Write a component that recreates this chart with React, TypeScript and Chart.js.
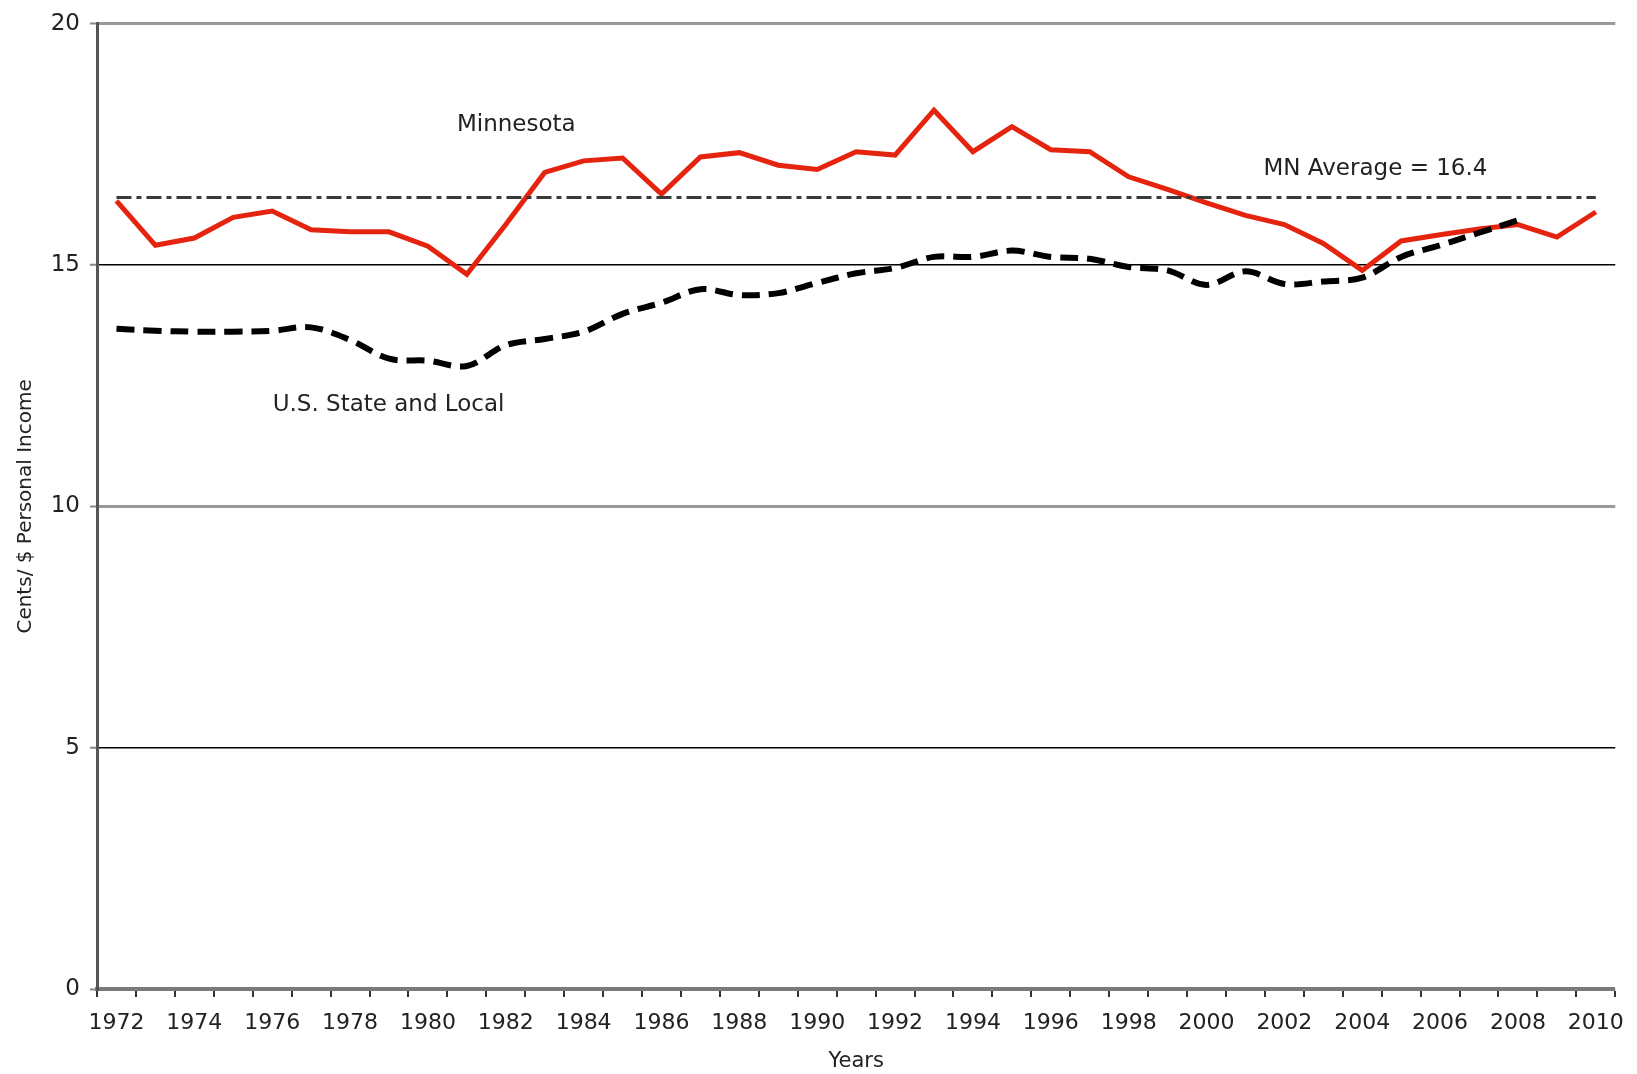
import React, { useEffect, useRef } from "react";
import { Chart, registerables } from "chart.js";

Chart.register(...registerables);

const years: string[] = [
  "1972","1973","1974","1975","1976","1977","1978","1979","1980","1981",
  "1982","1983","1984","1985","1986","1987","1988","1989","1990","1991",
  "1992","1993","1994","1995","1996","1997","1998","1999","2000","2001",
  "2002","2003","2004","2005","2006","2007","2008","2009","2010",
];

const minnesota: number[] = [
  16.33, 15.41, 15.56, 15.99, 16.12, 15.73, 15.69, 15.69, 15.39, 14.81,
  15.84, 16.92, 17.16, 17.22, 16.47, 17.24, 17.33, 17.07, 16.98, 17.35,
  17.28, 18.21, 17.35, 17.87, 17.39, 17.35, 16.83, 16.57, 16.29, 16.03,
  15.84, 15.45, 14.89, 15.50, 15.63, 15.75, 15.84, 15.58, 16.10,
];

const usStateLocal: (number | null)[] = [
  13.68, 13.64, 13.62, 13.62, 13.64, 13.71, 13.45, 13.06, 13.02, 12.91,
  13.34, 13.47, 13.62, 13.99, 14.22, 14.50, 14.38, 14.42, 14.63, 14.83,
  14.94, 15.17, 15.17, 15.30, 15.17, 15.13, 14.96, 14.89, 14.59, 14.87,
  14.61, 14.66, 14.74, 15.17, 15.41, 15.67, 15.93, null, null,
];

const mnAverage = 16.4;
const mnAverageLine: number[] = years.map(() => mnAverage);

const yTicks: number[] = [0, 5, 10, 15, 20];

// text annotations: [label, category position, value]
const annotations: [string, number, number][] = [
  ["Minnesota", 10.27, 17.9],
  ["U.S. State and Local", 6.99, 12.1],
  ["MN Average = 16.4", 32.34, 16.99],
];

const FONT = "'DejaVu Sans', sans-serif";

const annotationPlugin = {
  id: "textAnnotations",
  afterDatasetsDraw(chart: any) {
    const { ctx, scales } = chart;
    ctx.save();
    ctx.font = `23px ${FONT}`;
    ctx.fillStyle = "#222";
    ctx.textAlign = "center";
    ctx.textBaseline = "middle";
    for (const [text, xi, yv] of annotations) {
      ctx.fillText(text, scales.x.getPixelForValue(xi), scales.y.getPixelForValue(yv));
    }
    ctx.restore();
  },
};

export default function App() {
  const ref = useRef<HTMLCanvasElement | null>(null);

  useEffect(() => {
    if (!ref.current) return;
    const chart = new Chart(ref.current, {
      type: "line",
      data: {
        labels: years,
        datasets: [
          {
            label: "MN Average",
            data: mnAverageLine,
            borderColor: "#3a3a3a",
            borderWidth: 3,
            borderDash: [15, 5, 5, 5],
            pointRadius: 0,
            fill: false,
          },
          {
            label: "U.S. State and Local",
            data: usStateLocal,
            borderColor: "#000",
            borderWidth: 6,
            borderDash: [18, 9],
            pointRadius: 0,
            tension: 0.35,
            fill: false,
          },
          {
            label: "Minnesota",
            data: minnesota,
            borderColor: "#e4240e",
            borderWidth: 5,
            pointRadius: 0,
            tension: 0,
            fill: false,
          },
        ],
      },
      options: {
        animation: false,
        responsive: true,
        maintainAspectRatio: false,
        layout: { padding: { top: 20, right: 15, left: 0, bottom: 0 } },
        plugins: {
          legend: { display: false },
          tooltip: { enabled: false },
        },
        scales: {
          x: {
            type: "category",
            offset: true,
            afterFit: (s: any) => {
              s.height = 85;
            },
            grid: {
              offset: true,
              drawOnChartArea: true,
              drawTicks: true,
              tickLength: 8,
              tickColor: "#333",
              tickWidth: 2,
              color: (c: any) => (c.index === years.length ? "#aaa" : "rgba(0,0,0,0)"),
              lineWidth: (c: any) => (c.index === years.length ? 3 : 0),
            },
            border: { display: true, color: "#7a7a7a", width: 4 },
            ticks: {
              autoSkip: false,
              maxRotation: 0,
              padding: 13,
              color: "#222",
              font: { family: FONT, size: 22 },
              callback: (_v: any, i: number) => (i % 2 === 0 ? years[i] : ""),
            },
            title: {
              display: true,
              text: "Years",
              color: "#222",
              font: { family: FONT, size: 21 },
              padding: { top: 0, bottom: 0 },
            },
          },
          y: {
            min: 0,
            max: 20,
            afterFit: (s: any) => {
              s.width = 97;
            },
            afterBuildTicks: (s: any) => {
              s.ticks = yTicks.map((v) => ({ value: v }));
            },
            grid: {
              drawTicks: true,
              tickLength: 7,
              tickColor: "#888",
              tickWidth: 2,
              color: (c: any) => {
                const v = c.tick ? c.tick.value : null;
                return v === 5 || v === 15 ? "#000" : "#999";
              },
              lineWidth: (c: any) => {
                const v = c.tick ? c.tick.value : null;
                return v === 5 || v === 15 ? 1.5 : 3;
              },
            },
            border: { display: true, color: "#555", width: 3 },
            ticks: {
              padding: 10,
              color: "#222",
              font: { family: FONT, size: 23 },
            },
            title: {
              display: true,
              text: "Cents/ $ Personal Income",
              color: "#222",
              font: { family: FONT, size: 20 },
              padding: { top: 14, bottom: 0 },
            },
          },
        },
      },
      plugins: [annotationPlugin],
    } as any);
    return () => chart.destroy();
  }, []);

  return (
    <div style={{ position: "fixed", left: 0, top: 0, width: 1637, height: 1074, background: "#fff" }}>
      <canvas ref={ref} />
    </div>
  );
}
